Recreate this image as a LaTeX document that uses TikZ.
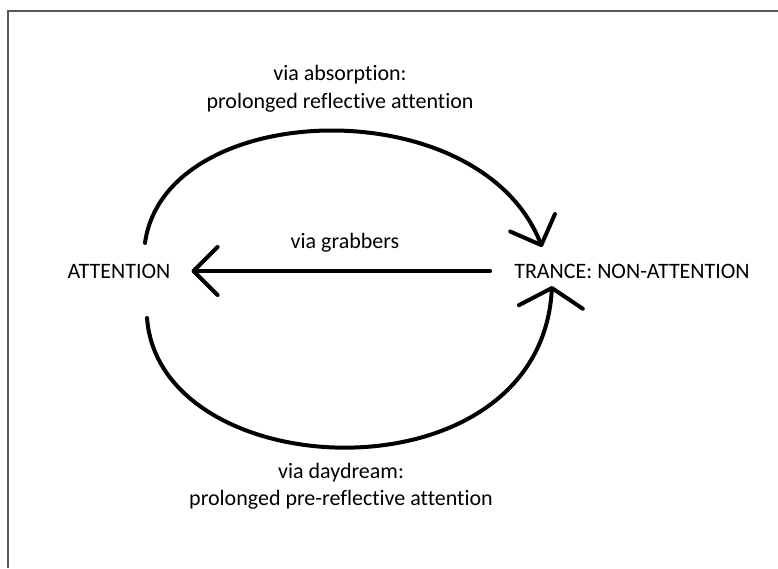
\documentclass[tikz,border=0pt]{standalone}
\usepackage{fontspec}
\setmainfont[Ligatures=NoCommon]{Carlito}
\usetikzlibrary{arrows.meta}
\begin{document}
\begin{tikzpicture}[x=1pt,y=1pt,
  lbl/.style={inner sep=0pt, align=center, font=\fontsize{22}{27.5}\selectfont, text=black},
  state/.style={inner sep=0pt, font=\fontsize{22}{27.5}\selectfont, text=black},
  flow/.style={line width=4pt, line cap=round, black},
  barb/.style={-{Straight Barb[length=24pt,width=48pt,round]}},
  widebarb/.style={-{Straight Barb[length=19pt,width=64pt,round]}}]
  % page and frame
  \useasboundingbox (0,0) rectangle (778,568);
  \fill[white] (0,0) rectangle (778,568);
  \draw[line width=2pt, color={rgb,255:red,92;green,85;blue,80}]
    (8,0) -- (8,557) -- (778,557);

  % the two states
  \node[state] (att) at (119,297) {ATTENTION};
  \node[state] (tr)  at (632,297) {TRANCE: NON-ATTENTION};

  % end points of the curved transitions
  \coordinate (absS) at (145,325);
  \coordinate (absE) at (542,321);
  \coordinate (dayS) at (147,250);
  \coordinate (dayE) at (552,282);

  % transitions
  \draw[flow, barb] (absS) .. controls (165,470) and (480,480) .. (absE);
  \draw[flow, widebarb] (dayS) .. controls (160,80) and (540,65) .. (dayE);
  \draw[flow, barb, shorten <=24pt, shorten >=21pt] (tr.west) -- (att.east);

  % labels
  \node[lbl] (labs) at (340,479) {via absorption:\\prolonged reflective attention};
  \node[lbl] (lgrab) at (345,325) {via grabbers};
  \node[lbl] (lday) at (341,82) {via daydream:\\prolonged pre-reflective attention};
\end{tikzpicture}
\end{document}
